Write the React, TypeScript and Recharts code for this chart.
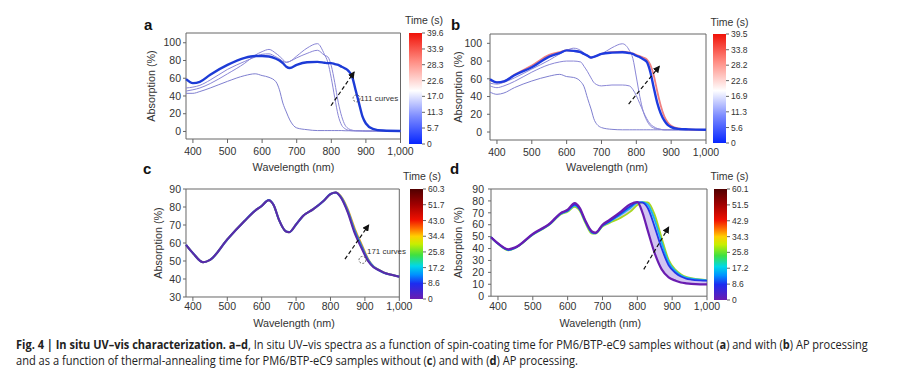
import React, { useLayoutEffect, useRef, useState } from "react";
import {
  ComposedChart,
  BarChart,
  Bar,
  Line,
  Area,
  XAxis,
  YAxis,
  ReferenceLine,
  ReferenceDot,
  ReferenceArea,
} from "recharts";

// wavelength grids (nm)
const waveAB = [380, 400, 420, 450, 500, 550, 580, 600, 620, 640, 650, 660, 670, 680, 700, 730, 760, 780, 790, 800, 810, 820, 830, 840, 850, 860, 870, 880, 890, 900, 920, 950, 1000];
const waveCD = [380, 400, 430, 450, 500, 550, 580, 600, 620, 635, 650, 670, 680, 700, 720, 750, 780, 800, 815, 830, 850, 870, 890, 910, 925, 940, 955, 980, 1000];

// panel a: spin-coating, no AP
const aThick = [59, 54.5, 56, 64, 75, 83, 85, 85, 84.5, 82, 80, 77, 73, 71.5, 75, 78, 78.5, 77.5, 77, 77, 76, 75, 73, 71, 68, 62, 47, 32, 17, 9, 3, 1, 0.5];
const aThin1 = [43, 43, 45, 49, 56.5, 63, 65, 63, 61, 56, 47, 32, 22, 13, 4, 2, 1, 1, 1, 1, 1, 1, 1, 0.8, 0.8, 0.8, 0.7, 0.7, 0.6, 0.5, 0.5, 0.5, 0.5];
const aThin2 = [45.5, 47, 49, 54, 65, 77, 86, 90, 92.5, 88, 85, 81, 78, 79, 85, 94, 99, 87, 78, 60, 38, 18, 7, 3, 1.2, 0.8, 0.7, 0.7, 0.6, 0.5, 0.5, 0.5, 0.5];
const aThin3 = [49, 50, 52, 58, 70, 79, 84, 87, 87.5, 84, 82, 79, 78, 79, 83, 88, 91.5, 86, 84, 74, 55, 33, 17, 7, 3, 1.5, 0.8, 0.7, 0.6, 0.5, 0.5, 0.5, 0.5];

// panel b: spin-coating, with AP
const bThick = [59.5, 56, 57, 64, 73, 85, 89, 92, 91.5, 90, 88, 86, 84, 85, 88, 89.5, 90, 89, 88, 86, 84.5, 82, 79, 68, 50, 33, 21, 13, 8, 5.5, 3.5, 3, 2.5];
const bRed = [59, 56, 57, 64.5, 75, 87, 90, 92, 91.5, 90, 88, 86, 84, 85, 88, 90, 90.5, 89.5, 88.5, 87, 85.5, 84, 82, 76, 64, 46, 30, 18, 11, 7, 4, 3, 2.5];
const bThin1 = [45, 42.5, 44, 50, 57.5, 63, 65, 62.5, 61.5, 57, 51, 38, 26, 13, 5, 3, 2.5, 2.5, 2.5, 2.5, 2.5, 2.5, 2.5, 2.5, 2.5, 2.5, 2.5, 2.5, 2.5, 2.5, 2.5, 2.5, 2.5];
const bThin2 = [52, 50, 52, 57, 67.5, 76, 79, 80, 80, 79, 74, 68, 61, 55, 52, 53, 53, 52, 48, 41, 32, 23, 15, 9, 6, 4, 3, 2.5, 2.5, 2.5, 2.5, 2.5, 2.5];
const bThin3 = [55, 54, 56, 61, 71, 81, 88, 92, 94.5, 92, 89, 86, 83.5, 85, 88, 95, 99.5, 92, 83, 62, 40, 23, 13, 7, 4.5, 3.5, 3, 2.5, 2.5, 2.5, 2.5, 2.5, 2.5];

// panel c: thermal annealing, no AP
const c0 = [59, 54.4, 49.3, 50.6, 62, 72.2, 77.8, 80.6, 83.8, 81, 73, 66.5, 66, 70.3, 75, 78.8, 83.4, 87.2, 88, 85.3, 77, 65.6, 57.2, 49.7, 46.5, 45, 43.5, 42.2, 41.3];
const c1 = [59, 54.4, 49.3, 50.6, 62, 72.2, 77.8, 80.6, 83.8, 81, 73, 66.5, 66, 70.3, 75, 78.8, 83.4, 87.2, 88, 85.6, 77.8, 66.8, 58.2, 50.3, 46.8, 45, 43.5, 42.2, 41.3];
const c2 = [59, 54.4, 49.3, 50.6, 62, 72.2, 77.8, 80.6, 83.8, 81, 73, 66.5, 66, 70.3, 75, 78.8, 83.4, 87.2, 88, 86, 78.8, 68.2, 59.3, 50.9, 47, 45.2, 43.6, 42.2, 41.3];

// panel d: thermal annealing, with AP
const d0 = [49.5, 44.4, 39.4, 41, 52.3, 61.3, 69.8, 72.6, 78.2, 74, 64, 54.3, 53.4, 60, 64, 70.3, 77.3, 79, 70, 55, 36, 22.5, 15.8, 13, 11.5, 10.8, 10.3, 10, 10];
const dBlue = [49.5, 44.2, 39, 40.8, 52, 61, 69.5, 72, 77, 73, 63.5, 53.8, 53, 59.5, 63, 69, 75.5, 79, 78.5, 74, 58, 40, 26, 19.5, 16.5, 14.8, 14, 13.3, 13];
const dCyan = [49.5, 44, 38.8, 40.6, 51.8, 60.7, 69, 71.5, 76, 72.5, 63, 53.2, 52.7, 59, 62.3, 68, 74, 78.5, 79, 77, 64, 45, 28.5, 21, 17.5, 15.5, 14.7, 13.8, 13.3];
const dGreen = [49.5, 44, 38.5, 40.5, 51.5, 60.5, 68.5, 71, 75, 71.5, 62, 52.5, 52.5, 58.5, 61.5, 65.5, 71, 76.5, 79, 78.8, 68.3, 48.7, 30.4, 22, 18.5, 16.3, 15.2, 14, 13.5];

const xTicks = [400, 500, 600, 700, 800, 900, 1000];
const yTicksAB = [0, 20, 40, 60, 80, 100];
const yTicksC = [30, 40, 50, 60, 70, 80, 90];
const yTicksD = [0, 10, 20, 30, 40, 50, 60, 70, 80, 90];

const cbTicksA = [0, 5.7, 11.3, 17.0, 22.6, 28.3, 33.9, 39.6];
const cbTicksB = [0, 5.6, 11.3, 16.9, 22.6, 28.2, 33.8, 39.5];
const cbTicksC = [0, 8.6, 17.2, 25.8, 34.4, 43.0, 51.7, 60.3];
const cbTicksD = [0, 8.6, 17.2, 25.8, 34.3, 42.9, 51.5, 60.1];

const dataA = waveAB.map((w, i) => ({ w, aThick: aThick[i], aThin1: aThin1[i], aThin2: aThin2[i], aThin3: aThin3[i] }));
const dataB = waveAB.map((w, i) => ({ w, bThick: bThick[i], bRed: bRed[i], bThin1: bThin1[i], bThin2: bThin2[i], bThin3: bThin3[i] }));
const dataC = waveCD.map((w, i) => ({ w, c0: c0[i], c1: c1[i], c2: c2[i] }));
const dataD = waveCD.map((w, i) => ({ w, d0: d0[i], dBlue: dBlue[i], dCyan: dCyan[i], dGreen: dGreen[i], band: [d0[i], dGreen[i]] }));

const bwr = [
  { o: 0, c: "#0626ff" },
  { o: 0.25, c: "#7d8cff" },
  { o: 0.48, c: "#ffffff" },
  { o: 0.75, c: "#ff8a80" },
  { o: 1, c: "#f01208" },
];
const rainbow = [
  { o: 0, c: "#6a1cb0" },
  { o: 0.14, c: "#1c2cf0" },
  { o: 0.22, c: "#0090ff" },
  { o: 0.3, c: "#00d8e8" },
  { o: 0.4, c: "#40e040" },
  { o: 0.5, c: "#c8ee00" },
  { o: 0.57, c: "#ffd000" },
  { o: 0.64, c: "#ff7000" },
  { o: 0.72, c: "#f01000" },
  { o: 0.86, c: "#a00000" },
  { o: 1, c: "#500000" },
];

const Y_W = 45;
const X_H = 36;
const M_TOP = 8;
const M_RIGHT = 18;
const ink = "#333";
const frame = "#666";

const fmtX = (v: number) => (v === 1000 ? "1,000" : String(v));

type LineSpec = { key: string; color: string; width: number };

function Panel(props: {
  id: string;
  box: [number, number, number, number];
  data: any[];
  yDomain: [number, number];
  yTicks: number[];
  lines: LineSpec[];
  xTickGap: number;
  yTickGap: number;
  yLabelX: number;
  xLabel: [number, number];
  arrow: [number, number, number, number];
  ring?: [number, number];
  note?: [number, number, string];
  band?: boolean;
}) {
  const [x0, y0, x1, y1] = props.box;
  const width = x1 - x0 + Y_W + M_RIGHT;
  const height = y1 - y0 + M_TOP + X_H;
  const [ax0, ay0, ax1, ay1] = props.arrow;
  const markerId = `arrow-${props.id}`;
  return (
    <div style={{ position: "absolute", left: x0 - Y_W, top: y0 - M_TOP }}>
      <ComposedChart width={width} height={height} data={props.data} margin={{ top: M_TOP, right: M_RIGHT, bottom: 0, left: 0 }}>
        <defs>
          <marker id={markerId} markerWidth={7} markerHeight={7} refX={6} refY={3.5} orient="auto" markerUnits="userSpaceOnUse">
            <path d="M0,0 L7,3.5 L0,7 z" fill="#111" />
          </marker>
        </defs>
        <XAxis
          dataKey="w"
          type="number"
          domain={[380, 1000]}
          ticks={xTicks}
          tickFormatter={fmtX}
          interval={0}
          height={X_H}
          axisLine={false}
          tickSize={4}
          tickMargin={props.xTickGap}
          stroke={frame}
          tick={{ fontSize: 10.5, fill: ink }}
          label={{ value: "Wavelength (nm)", position: "center", fontSize: 10.8, fill: ink, dx: props.xLabel[0] - (x0 + x1) / 2, dy: props.xLabel[1] - (y1 + X_H / 2) }}
        />
        <YAxis
          type="number"
          domain={props.yDomain}
          ticks={props.yTicks}
          interval={0}
          width={Y_W}
          axisLine={false}
          tickSize={3}
          tickMargin={props.yTickGap}
          stroke={frame}
          tick={{ fontSize: 10.5, fill: ink }}
          label={{ value: "Absorption (%)", angle: -90, position: "center", fontSize: 10.8, fill: ink, dx: props.yLabelX - (x0 - Y_W / 2) }}
        />
        {props.band && <Area dataKey="band" type="monotone" stroke="none" fill="#c4b0ec" fillOpacity={0.75} isAnimationActive={false} />}
        {props.lines.map((l) => (
          <Line key={l.key} dataKey={l.key} type="monotone" stroke={l.color} strokeWidth={l.width} dot={false} isAnimationActive={false} />
        ))}
        <ReferenceLine
          segment={[{ x: ax0, y: ay0 }, { x: ax1, y: ay1 }]}
          ifOverflow="visible"
          shape={(p: any) => (
            <line x1={p.x1} y1={p.y1} x2={p.x2} y2={p.y2} stroke="#111" strokeWidth={1.2} strokeDasharray="4 2.5" markerEnd={`url(#${markerId})`} />
          )}
        />
        {props.ring && (
          <ReferenceDot x={props.ring[0]} y={props.ring[1]} r={3.5} fill="none" stroke="#444" strokeWidth={0.8} strokeDasharray="2 1.5" ifOverflow="visible" />
        )}
        {props.note && (
          <ReferenceDot x={props.note[0]} y={props.note[1]} r={0} fill="none" stroke="none" ifOverflow="visible"
            label={{ value: props.note[2], position: "right", offset: 0, fontSize: 8, fill: ink }} />
        )}
        <ReferenceArea x1={380} x2={1000} y1={props.yDomain[0]} y2={props.yDomain[1]} fill="none" stroke={frame} strokeWidth={1} ifOverflow="visible" />
      </ComposedChart>
    </div>
  );
}

function ColorBar(props: { id: string; x: number; y0: number; y1: number; ticks: number[]; stops: { o: number; c: string }[]; title: [number, number] }) {
  const pad = 7;
  const max = props.ticks[props.ticks.length - 1];
  return (
    <>
      <div style={{ position: "absolute", left: props.title[0] - 30, top: props.title[1] - 7, width: 60, textAlign: "center", fontSize: 10.5, lineHeight: "14px", color: ink }}>
        Time (s)
      </div>
      <div style={{ position: "absolute", left: props.x, top: props.y0 - pad }}>
        <BarChart width={13 + 34} height={props.y1 - props.y0 + 2 * pad} data={[{ n: "t", v: max }]} margin={{ top: pad, right: 0, bottom: pad, left: 0 }} barCategoryGap={0}>
          <defs>
            <linearGradient id={props.id} x1="0" y1="1" x2="0" y2="0">
              {props.stops.map((s) => (
                <stop key={s.o} offset={s.o} stopColor={s.c} />
              ))}
            </linearGradient>
          </defs>
          <XAxis dataKey="n" hide />
          <YAxis
            orientation="right"
            type="number"
            domain={[0, max]}
            ticks={props.ticks}
            interval={0}
            width={34}
            axisLine={false}
            tickSize={3}
            tickMargin={2}
            stroke={frame}
            tickFormatter={(v: number) => (v === 0 ? "0" : v.toFixed(1))}
            tick={{ fontSize: 8.5, fill: ink }}
          />
          <Bar dataKey="v" fill={`url(#${props.id})`} isAnimationActive={false} />
        </BarChart>
      </div>
    </>
  );
}

function Letter({ ch, x, y }: { ch: string; x: number; y: number }) {
  return (
    <div style={{ position: "absolute", left: x, top: y - 13, fontSize: 15, fontWeight: 700, lineHeight: "16px", color: "#111" }}>{ch}</div>
  );
}

// caption line squeezed to the reference width
function FitLine({ top, width, children }: { top: number; width: number; children: React.ReactNode }) {
  const ref = useRef<HTMLDivElement>(null);
  const [k, setK] = useState(1);
  useLayoutEffect(() => {
    if (ref.current) setK(width / ref.current.offsetWidth);
  }, [width]);
  return (
    <div
      ref={ref}
      style={{
        position: "absolute",
        left: 16,
        top,
        whiteSpace: "nowrap",
        fontFamily: '"Open Sans", sans-serif',
        fontSize: 12.5,
        lineHeight: "16px",
        color: "#222",
        transform: `scaleX(${k})`,
        transformOrigin: "0 0",
      }}
    >
      {children}
    </div>
  );
}

export default function App() {
  return (
    <div style={{ position: "absolute", left: 0, top: 0, width: 900, height: 376, background: "#fff", overflow: "hidden", fontFamily: '"Liberation Sans", Arial, sans-serif' }}>
      <Letter ch="a" x={144} y={30} />
      <Letter ch="b" x={451} y={30} />
      <Letter ch="c" x={143} y={174} />
      <Letter ch="d" x={450} y={174} />

      <Panel
        id="a"
        box={[185.5, 33.3, 400, 139.3]}
        data={dataA}
        yDomain={[-8.5, 111]}
        yTicks={yTicksAB}
        lines={[
          { key: "aThin1", color: "#7f7fd0", width: 1 },
          { key: "aThin2", color: "#8a86d6", width: 1 },
          { key: "aThin3", color: "#8a86d6", width: 1 },
          { key: "aThick", color: "#1d3bd6", width: 2.4 },
        ]}
        xTickGap={5}
        yTickGap={2}
        yLabelX={151}
        xLabel={[293, 167]}
        arrow={[799, 29, 866, 67]}
        ring={[873, 37.3]}
        note={[884, 37.3, "111 curves"]}
      />
      <ColorBar id="cbA" x={409} y0={33} y1={144} ticks={cbTicksA} stops={bwr} title={[424, 20]} />

      <Panel
        id="b"
        box={[490, 34, 706, 140]}
        data={dataB}
        yDomain={[-9, 110.5]}
        yTicks={yTicksAB}
        lines={[
          { key: "bThin1", color: "#7f7fd0", width: 1 },
          { key: "bThin2", color: "#8a86d6", width: 1 },
          { key: "bThin3", color: "#8a86d6", width: 1 },
          { key: "bRed", color: "#f08080", width: 1.8 },
          { key: "bThick", color: "#1d3bdf", width: 2.4 },
        ]}
        xTickGap={5}
        yTickGap={5}
        yLabelX={458}
        xLabel={[607, 167]}
        arrow={[778, 31.5, 866, 74]}
      />
      <ColorBar id="cbB" x={713} y0={34} y1={143} ticks={cbTicksB} stops={bwr} title={[729.5, 22]} />

      <Panel
        id="c"
        box={[186, 189.3, 399.3, 297.3]}
        data={dataC}
        yDomain={[30, 90]}
        yTicks={yTicksC}
        lines={[
          { key: "c2", color: "#e0a020", width: 2 },
          { key: "c1", color: "#2080e0", width: 2.2 },
          { key: "c0", color: "#5a2aa8", width: 2 },
        ]}
        xTickGap={2}
        yTickGap={2}
        yLabelX={158.5}
        xLabel={[294, 323]}
        arrow={[842, 51, 911, 70]}
        ring={[893, 50.6]}
        note={[906, 55.3, "171 curves"]}
      />
      <ColorBar id="cbC" x={410} y0={189} y1={299} ticks={cbTicksC} stops={rainbow} title={[422, 176]} />

      <Panel
        id="d"
        box={[490.7, 189.3, 706.7, 296.5]}
        data={dataD}
        yDomain={[0, 90]}
        yTicks={yTicksD}
        band
        lines={[
          { key: "dGreen", color: "#a8d820", width: 1.8 },
          { key: "dCyan", color: "#18b4ee", width: 1.8 },
          { key: "dBlue", color: "#2236e8", width: 1.8 },
          { key: "d0", color: "#6a1cb0", width: 2.2 },
        ]}
        xTickGap={2}
        yTickGap={4}
        yLabelX={457.5}
        xLabel={[600, 323]}
        arrow={[818.5, 22.5, 890, 58]}
      />
      <ColorBar id="cbD" x={714} y0={189} y1={300} ticks={cbTicksD} stops={rainbow} title={[729.5, 176]} />

      <FitLine top={337} width={852}>
        <b>Fig. 4 | In situ UV–vis characterization. a–d</b>, In situ UV–vis spectra as a function of spin-coating time for PM6/BTP-eC9 samples without (<b>a</b>) and with (<b>b</b>) AP processing
      </FitLine>
      <FitLine top={353} width={562}>
        and as a function of thermal-annealing time for PM6/BTP-eC9 samples without (<b>c</b>) and with (<b>d</b>) AP processing.
      </FitLine>
    </div>
  );
}
